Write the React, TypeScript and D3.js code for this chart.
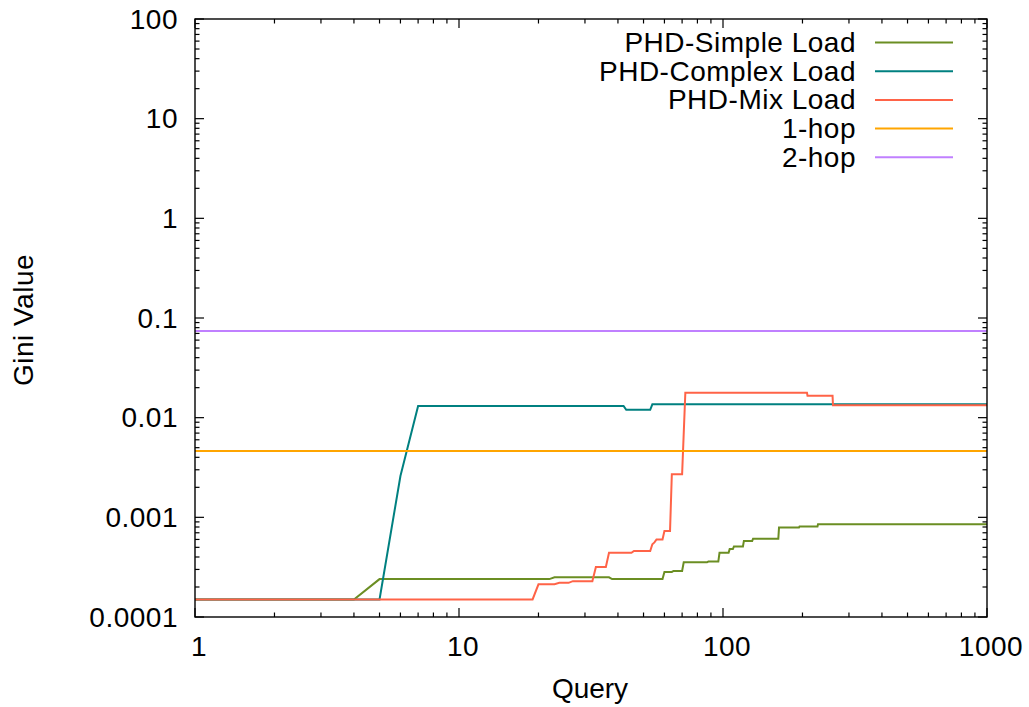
import React from "react";
import * as d3 from "d3";

type Pt = [number, number];

const xTickValues = [1, 10, 100, 1000];
const xTickLabels = ["1", "10", "100", "1000"];
const yTickValues = [0.0001, 0.001, 0.01, 0.1, 1, 10, 100];
const yTickLabels = ["0.0001", "0.001", "0.01", "0.1", "1", "10", "100"];

const seriesNames = ["PHD-Simple Load", "PHD-Complex Load", "PHD-Mix Load", "1-hop", "2-hop"];
const seriesColors = ["#6b8e23", "#008080", "#ff6347", "#ffa500", "#c080ff"];

const simpleLoad: Pt[] = [
  [1, 0.00015], [4, 0.00015], [5, 0.00024], [22, 0.00024], [23, 0.00025], [37, 0.00025],
  [38, 0.00024], [59, 0.00024], [60, 0.000283], [64, 0.000283], [65, 0.00029], [70, 0.00029],
  [71, 0.000354], [87, 0.000354], [88, 0.00036], [96, 0.00036], [97, 0.00044], [105, 0.00044],
  [106, 0.00048], [109, 0.00048], [110, 0.00051], [119, 0.00051], [120, 0.00058], [129, 0.00058],
  [130, 0.00061], [162, 0.00061], [163, 0.00079], [194, 0.00079], [195, 0.00081], [228, 0.00081],
  [229, 0.00085], [1000, 0.00085],
];

const complexLoad: Pt[] = [
  [1, 0.00015], [5, 0.00015], [6, 0.0026], [7, 0.0131], [42, 0.0131], [43, 0.012],
  [53, 0.012], [54, 0.0136], [1000, 0.0136],
];

const mixLoad: Pt[] = [
  [1, 0.00015], [19, 0.00015], [20, 0.000213], [23, 0.000213], [24, 0.00022], [26, 0.00022],
  [27, 0.000229], [32, 0.000229], [33, 0.000318], [36, 0.000318], [37, 0.00044], [45, 0.00044],
  [46, 0.00046], [53, 0.00046], [54, 0.000537], [55, 0.00056], [56, 0.0006], [59, 0.0006],
  [60, 0.00073], [63, 0.00073], [64, 0.0027], [70, 0.0027], [72, 0.0178], [208, 0.0178],
  [209, 0.0166], [260, 0.0166], [261, 0.0133], [1000, 0.0133],
];

const oneHop: Pt[] = [[1, 0.00463], [1000, 0.00463]];
const twoHop: Pt[] = [[1, 0.0741], [1000, 0.0741]];

const allSeries = [simpleLoad, complexLoad, mixLoad, oneHop, twoHop];

const W = 1029;
const H = 707;
const left = 195;
const right = 987;
const top = 19;
const bottom = 617;
const FONT = "'Liberation Sans', Arial, sans-serif";
const FS = 28;
const LS = 0.5;

export default function App() {
  const x = d3.scaleLog().domain([1, 1000]).range([left, right]);
  const y = d3.scaleLog().domain([0.0001, 100]).range([bottom, top]);
  const line = d3
    .line<Pt>()
    .x((d) => x(d[0]))
    .y((d) => y(d[1]))
    .curve(d3.curveLinear);

  const xMinor: number[] = [];
  for (let dec = 1; dec < 1000; dec *= 10) for (let k = 2; k <= 9; k++) xMinor.push(dec * k);
  const yMinor: number[] = [];
  for (let dec = 0.0001; dec < 99; dec *= 10) for (let k = 2; k <= 9; k++) yMinor.push(dec * k);

  const MAJ = 9;
  const MIN = 4.5;

  const legendY0 = 42.5;
  const legendDy = 28.7;

  return (
    <div style={{ position: "absolute", left: 0, top: 0 }}>
      <svg width={W} height={H} style={{ display: "block", background: "#fff" }} fontFamily={FONT}>
        <defs>
          <clipPath id="plot">
            <rect x={left} y={top} width={right - left} height={bottom - top} />
          </clipPath>
        </defs>
        {/* ticks */}
        <g stroke="#000" strokeWidth={1.2}>
          {xTickValues.map((v) => (
            <g key={"xm" + v}>
              <line x1={x(v)} x2={x(v)} y1={bottom} y2={bottom - MAJ} />
              <line x1={x(v)} x2={x(v)} y1={top} y2={top + MAJ} />
            </g>
          ))}
          {xMinor.map((v) => (
            <g key={"xn" + v}>
              <line x1={x(v)} x2={x(v)} y1={bottom} y2={bottom - MIN} />
              <line x1={x(v)} x2={x(v)} y1={top} y2={top + MIN} />
            </g>
          ))}
          {yTickValues.map((v) => (
            <g key={"ym" + v}>
              <line x1={left} x2={left + MAJ} y1={y(v)} y2={y(v)} />
              <line x1={right} x2={right - MAJ} y1={y(v)} y2={y(v)} />
            </g>
          ))}
          {yMinor.map((v) => (
            <g key={"yn" + v}>
              <line x1={left} x2={left + MIN} y1={y(v)} y2={y(v)} />
              <line x1={right} x2={right - MIN} y1={y(v)} y2={y(v)} />
            </g>
          ))}
        </g>
        {/* series */}
        <g clipPath="url(#plot)" fill="none" strokeWidth={2}>
          {allSeries.map((s, i) => (
            <path key={i} d={line(s) || ""} stroke={seriesColors[i]} strokeLinejoin="miter" />
          ))}
        </g>
        {/* border */}
        <rect x={left} y={top} width={right - left} height={bottom - top} fill="none" stroke="#000" strokeWidth={1.4} />
        {/* tick labels */}
        <g fontSize={FS} fill="#000" letterSpacing={LS}>
          {xTickValues.map((v, i) => (
            <text key={"xl" + v} x={x(v) + 4} y={656} textAnchor="middle">
              {xTickLabels[i]}
            </text>
          ))}
          {yTickValues.map((v, i) => (
            <text key={"yl" + v} x={178} y={y(v) + 9.5} textAnchor="end">
              {yTickLabels[i]}
            </text>
          ))}
        </g>
        {/* axis titles */}
        <text x={590} y={698} textAnchor="middle" fontSize={FS}>
          Query
        </text>
        <text transform="translate(33,320) rotate(-90)" textAnchor="middle" fontSize={FS} letterSpacing={LS}>
          Gini Value
        </text>
        {/* legend */}
        <g fontSize={FS} letterSpacing={LS}>
          {seriesNames.map((n, i) => (
            <g key={n}>
              <text x={856} y={legendY0 + i * legendDy + 9.5} textAnchor="end">
                {n}
              </text>
              <line
                x1={875}
                x2={953}
                y1={legendY0 + i * legendDy}
                y2={legendY0 + i * legendDy}
                stroke={seriesColors[i]}
                strokeWidth={2}
              />
            </g>
          ))}
        </g>
      </svg>
    </div>
  );
}
